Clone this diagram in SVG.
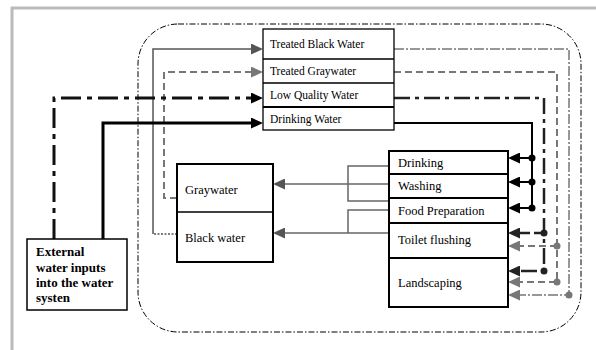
<svg xmlns="http://www.w3.org/2000/svg" width="596" height="350" viewBox="0 0 596 350">
<defs>
<style>
.box{fill:#fff;stroke:#000;stroke-width:1.3}
.boxb{fill:#fff;stroke:#000;stroke-width:2}
.t{font-family:"Liberation Serif","Times New Roman",serif;font-size:11.5px;fill:#000}
.t2{font-family:"Liberation Serif","Times New Roman",serif;font-size:12.5px;fill:#000}
.tb{font-family:"Liberation Serif","Times New Roman",serif;font-size:13px;font-weight:bold;fill:#000}
.c{fill:none}
</style>
<marker id="aK" viewBox="0 0 12 11" refX="0" refY="5.5" markerWidth="12" markerHeight="11" markerUnits="userSpaceOnUse" orient="auto"><path d="M0,0L12,5.5L0,11z" fill="#000"/></marker>
<marker id="aD" viewBox="0 0 12 11" refX="0" refY="5.5" markerWidth="12" markerHeight="11" markerUnits="userSpaceOnUse" orient="auto"><path d="M0,0L12,5.5L0,11z" fill="#222"/></marker>
<marker id="aG" viewBox="0 0 12 11" refX="0" refY="5.5" markerWidth="12" markerHeight="11" markerUnits="userSpaceOnUse" orient="auto"><path d="M0,0L12,5.5L0,11z" fill="#555"/></marker>
<marker id="aL" viewBox="0 0 12 11" refX="0" refY="5.5" markerWidth="12" markerHeight="11" markerUnits="userSpaceOnUse" orient="auto"><path d="M0,0L12,5.5L0,11z" fill="#777"/></marker>
</defs>
<rect width="596" height="350" fill="#fff"/>
<path d="M12,350V8H596" fill="none" stroke="#bbb" stroke-width="3"/>
<rect x="138" y="24" width="443" height="308" rx="40" ry="40" fill="none" stroke="#000" stroke-width="1" stroke-dasharray="6,2,1.5,2"/>

<g id="connectors">
<path class="c" d="M177,234H153" stroke="#555" stroke-width="1.5" stroke-dasharray="2,1.5"/>
<path class="c" d="M153,234V49H251" stroke="#555" stroke-width="1.5" marker-end="url(#aG)"/>
<path class="c" d="M177,198H164V72H251" stroke="#777" stroke-width="2" stroke-dasharray="7,4" marker-end="url(#aL)"/>
<path class="c" d="M54,239V98H251" stroke="#111" stroke-width="3" stroke-dasharray="20,6,5,6" marker-end="url(#aK)"/>
<path class="c" d="M103,239V123H251" stroke="#000" stroke-width="3" marker-end="url(#aK)"/>
<path class="c" d="M394,49H569V295H520" stroke="#777" stroke-width="1.5" stroke-dasharray="10,2,2,2" marker-end="url(#aL)"/>
<path class="c" d="M394,72H557V282H520" stroke="#777" stroke-width="2" stroke-dasharray="7,4" marker-end="url(#aL)"/>
<path class="c" d="M557,246H520" stroke="#777" stroke-width="2" stroke-dasharray="7,4" marker-end="url(#aL)"/>
<path class="c" d="M394,98H544V271H520" stroke="#222" stroke-width="2.5" stroke-dasharray="16,5,4,5" marker-end="url(#aD)"/>
<path class="c" d="M544,233H520" stroke="#222" stroke-width="2.5" stroke-dasharray="10,4" marker-end="url(#aD)"/>
<path class="c" d="M394,123H532V208H520" stroke="#000" stroke-width="2" marker-end="url(#aK)"/>
<path class="c" d="M532,158H520" stroke="#000" stroke-width="2" marker-end="url(#aK)"/>
<path class="c" d="M532,182H520" stroke="#000" stroke-width="2" marker-end="url(#aK)"/>
<g fill="#000"><circle cx="532" cy="158" r="3.5"/><circle cx="532" cy="182" r="3.5"/><circle cx="532" cy="208" r="3.5"/></g>
<g fill="#222"><circle cx="544" cy="233" r="3.5"/><circle cx="544" cy="271" r="3.5"/></g>
<g fill="#777"><circle cx="557" cy="246" r="3.5"/><circle cx="557" cy="282" r="3.5"/><circle cx="569" cy="295" r="3.5"/></g>
<path class="c" d="M389,166H348V201H389" stroke="#666" stroke-width="1.5"/>
<path class="c" d="M389,184H285" stroke="#666" stroke-width="1.5" marker-end="url(#aG)"/>
<path class="c" d="M389,210H348V233" stroke="#666" stroke-width="1.5"/>
<path class="c" d="M389,233H285" stroke="#666" stroke-width="1.5" marker-end="url(#aG)"/>
</g>

<g id="water-types">
<rect class="box" x="263" y="29" width="131" height="101"/>
<path d="M263,59H394M263,83H394" stroke="#000" stroke-width="1.3"/>
<path d="M263,107H394" stroke="#000" stroke-width="2"/>
</g>
<g id="treated-black-water"><text class="t" x="270" y="48">Treated Black Water</text></g>
<g id="treated-graywater"><text class="t" x="270" y="75">Treated Graywater</text></g>
<g id="low-quality-water"><text class="t" x="270" y="99">Low Quality Water</text></g>
<g id="drinking-water"><text class="t" x="270" y="123">Drinking Water</text></g>

<g id="wastewater">
<rect class="boxb" x="177" y="164" width="96" height="98"/>
<path d="M177,212H273" stroke="#000" stroke-width="1.5"/>
</g>
<g id="graywater"><text class="t2" x="185" y="194">Graywater</text></g>
<g id="black-water"><text class="t2" x="185" y="242">Black water</text></g>

<g id="uses">
<rect class="boxb" x="389" y="151" width="119" height="156"/>
<path d="M389,174H508M389,198H508M389,223H508M389,258H508" stroke="#000" stroke-width="2"/>
</g>
<g id="drinking"><text class="t2" x="398" y="167">Drinking</text></g>
<g id="washing"><text class="t2" x="398" y="190">Washing</text></g>
<g id="food-preparation"><text class="t2" x="398" y="215">Food Preparation</text></g>
<g id="toilet-flushing"><text class="t2" x="398" y="244">Toilet flushing</text></g>
<g id="landscaping"><text class="t2" x="398" y="287">Landscaping</text></g>

<g id="external-inputs">
<rect x="27" y="239" width="100" height="71" fill="#fff" stroke="#000" stroke-width="1.5"/>
<text class="tb" x="36" y="256">External</text>
<text class="tb" x="36" y="272">water inputs</text>
<text class="tb" x="36" y="287">into the water</text>
<text class="tb" x="36" y="302">systen</text>
</g>
</svg>
